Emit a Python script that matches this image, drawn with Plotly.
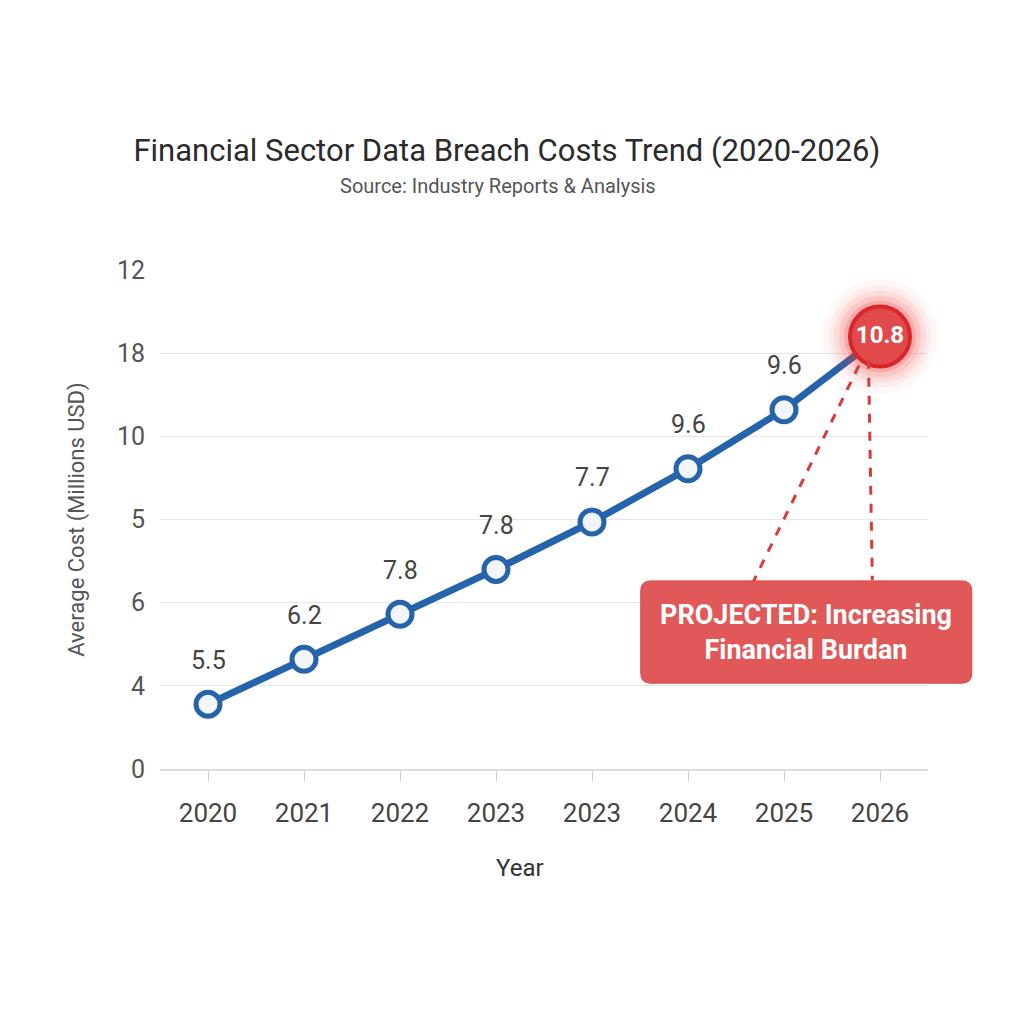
import plotly.graph_objects as go

years = ["2020", "2021", "2022", "2023", "2023", "2024", "2025", "2026"]
# vertical position on the chart's (evenly spaced) y scale
positions = [0.78, 1.32, 1.86, 2.40, 2.97, 3.61, 4.32, 5.20]
value_labels = ["5.5", "6.2", "7.8", "7.8", "7.7", "9.6", "9.6", "10.8"]
y_tick_labels = ["0", "4", "6", "5", "10", "18", "12"]

title = "Financial Sector Data Breach Costs Trend (2020-2026)"
subtitle = "Source: Industry Reports & Analysis"
callout = "PROJECTED: Increasing<br>Financial Burdan"

FONT = "Roboto"
BLUE = "#2563ab"

xs = list(range(len(years)))
fig = go.Figure()

# main line with hollow markers (all but the last point)
fig.add_trace(go.Scatter(
    x=xs, y=positions, mode="lines",
    line=dict(color=BLUE, width=7), hoverinfo="skip", cliponaxis=False))
fig.add_trace(go.Scatter(
    x=xs[:-1], y=positions[:-1], mode="markers",
    marker=dict(size=24, color="#f2f6fc", line=dict(color=BLUE, width=5)),
    cliponaxis=False))

# glow around last point
for s, op in [(114, 0.04), (102, 0.06), (92, 0.09), (82, 0.13), (72, 0.2)]:
    fig.add_trace(go.Scatter(
        x=[xs[-1]], y=[positions[-1]], mode="markers",
        marker=dict(size=s, color=f"rgba(240,60,60,{op})", line=dict(width=0)),
        cliponaxis=False, hoverinfo="skip"))
fig.add_trace(go.Scatter(
    x=[xs[-1]], y=[positions[-1]], mode="markers+text",
    marker=dict(size=60, color="#e14a4a", line=dict(color="#d8262a", width=4)),
    text=[f"<b>{value_labels[-1]}</b>"], textposition="middle center",
    textfont=dict(family=FONT, size=24, color="white"),
    cliponaxis=False))

# value labels above points
for x, y, t in zip(xs[:-1], positions[:-1], value_labels[:-1]):
    fig.add_annotation(x=x, y=y, text=t, showarrow=False, yshift=44,
                       font=dict(family=FONT, size=25, color="#444"))

# dashed connector lines
fig.add_shape(type="line", xref="x", yref="y", x0=6.88, y0=4.92, x1=6.92, y1=2.27,
              line=dict(color="#d93a3a", width=3, dash="dash"))
fig.add_shape(type="line", xref="x", yref="y", x0=6.78, y0=4.85, x1=5.65, y1=2.18,
              line=dict(color="#d93a3a", width=3, dash="dash"))

# rounded callout box (paper coords)
x0, x1, y0, y1 = 0.626, 1.057, 0.172, 0.377
rx, ry = 0.013, 0.02
path = (f"M {x0+rx},{y0} L {x1-rx},{y0} Q {x1},{y0} {x1},{y0+ry} "
        f"L {x1},{y1-ry} Q {x1},{y1} {x1-rx},{y1} L {x0+rx},{y1} "
        f"Q {x0},{y1} {x0},{y1-ry} L {x0},{y0+ry} Q {x0},{y0} {x0+rx},{y0} Z")
fig.add_shape(type="path", xref="paper", yref="paper", path=path,
              fillcolor="#e05858", line=dict(color="#d84848", width=1), layer="above")
fig.add_annotation(xref="paper", yref="paper", x=(x0 + x1) / 2, y=(y0 + y1) / 2,
                   xanchor="center", yanchor="middle",
                   text=f"<b>{callout}</b>", showarrow=False, align="center",
                   font=dict(family=FONT, size=27, color="white"))

# subtitle and x-axis title
fig.add_annotation(xref="paper", yref="paper", x=0.44, y=1.168, xanchor="center",
                   yanchor="middle", text=subtitle, showarrow=False,
                   font=dict(family=FONT, size=20, color="#555"))
fig.add_annotation(xref="paper", yref="paper", x=0.469, y=-0.198, xanchor="center",
                   yanchor="middle", text="Year", showarrow=False,
                   font=dict(family=FONT, size=24, color="#333"))

fig.update_layout(
    width=1024, height=1024,
    margin=dict(l=160, r=96, t=270, b=255),
    paper_bgcolor="white", plot_bgcolor="white",
    showlegend=False,
    title=dict(
        text=title, x=0.495, xanchor="center", y=1 - 150 / 1024, yanchor="middle",
        font=dict(family=FONT, size=31, color="#2b2b2b")),
    xaxis=dict(
        tickmode="array", tickvals=xs, ticktext=years, range=[-0.5, 7.5],
        showgrid=False, zeroline=False, showline=True, linecolor="#dcdcdc", linewidth=2,
        ticks="outside", ticklen=10, tickcolor="#cfcfcf", tickwidth=1,
        ticklabelstandoff=10,
        tickfont=dict(family=FONT, size=26, color="#444")),
    yaxis=dict(
        tickmode="array", tickvals=list(range(len(y_tick_labels))), ticktext=y_tick_labels,
        range=[0, 6], showgrid=True, gridcolor="#e6e6e6", gridwidth=1, zeroline=False,
        showline=False, ticklabelstandoff=14,
        tickfont=dict(family=FONT, size=25, color="#555"),
        title=dict(text="Average Cost (Millions USD)",
                   font=dict(family=FONT, size=22, color="#555"), standoff=26)),
)

fig.write_html("out.html")
